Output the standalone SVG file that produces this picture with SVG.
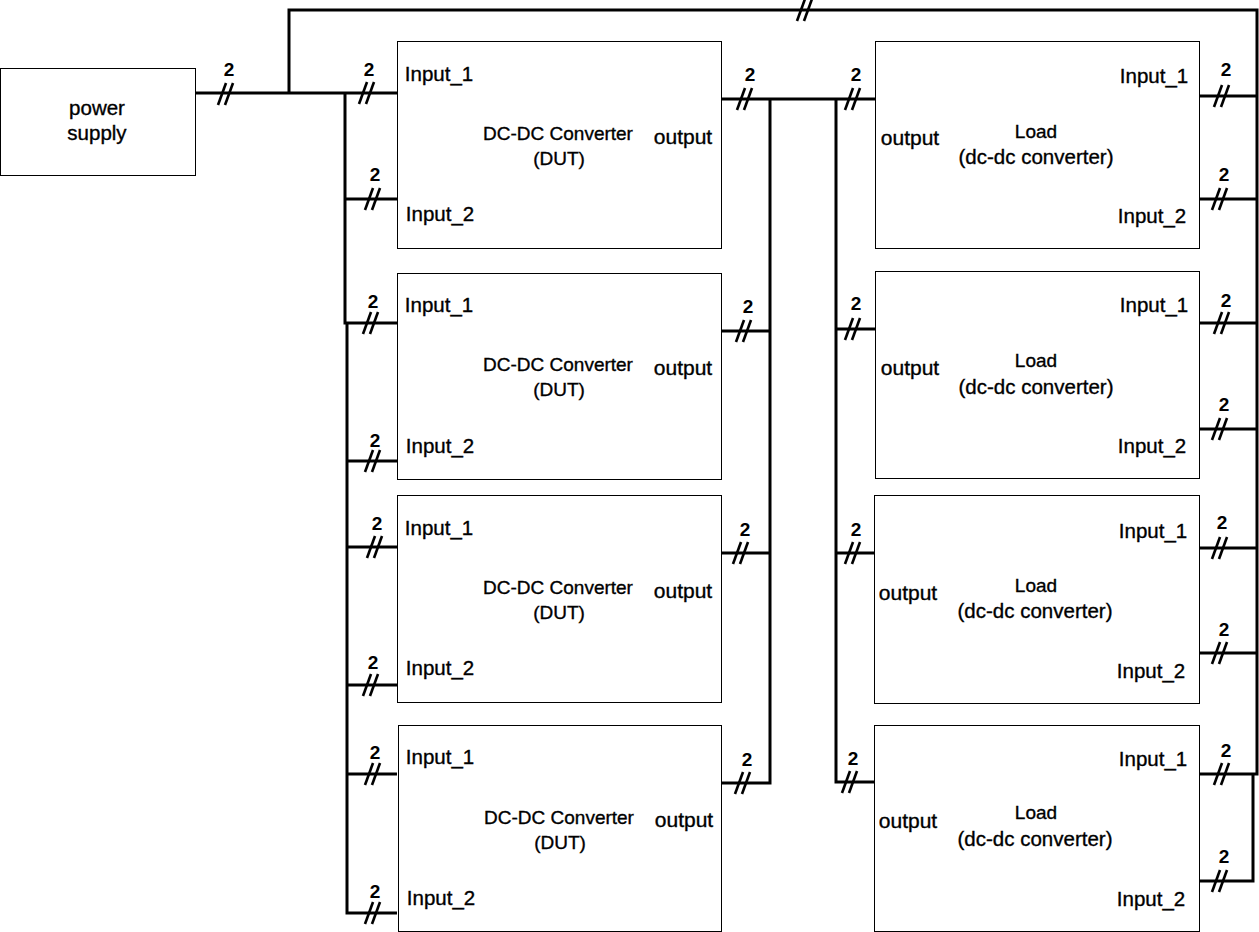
<svg xmlns="http://www.w3.org/2000/svg" width="1259" height="932" viewBox="0 0 1259 932">
<style>
.box{fill:#fff;stroke:#000;stroke-width:1}
.w{fill:none;stroke:#000;stroke-width:3}
.t{font-family:"Liberation Sans",Arial,sans-serif;font-size:19px;fill:#000;stroke:#000;stroke-width:0.35;text-anchor:middle}
.p{font-size:20.5px}
.o{font-size:21px}
.n{font-family:"Liberation Sans",Arial,sans-serif;font-size:19px;font-weight:bold;fill:#000;text-anchor:middle}
</style>
<defs>
<g id="slash" stroke="#000" stroke-width="2.6" fill="none">
<line x1="-8" y1="11" x2="0" y2="-11"/>
<line x1="-1" y1="11" x2="7" y2="-11"/>
</g>
</defs>
<rect width="1259" height="932" fill="#fff"/>

<g id="connectors">
<path class="w" d="M195 93 H397"/>
<path class="w" d="M289 93 V10 H1257 V774 H1199"/>
<path class="w" d="M1199 96 H1257 M1199 199 H1257 M1199 323 H1257 M1199 429 H1257 M1199 548 H1257 M1199 653 H1257"/>
<path class="w" d="M1253 774 V881 H1199"/>
<path class="w" d="M345 93 V323 H397"/>
<path class="w" d="M347 323 V913 H397"/>
<path class="w" d="M345 199 H397 M347 461 H397 M347 547 H397 M347 685 H397 M347 774 H397"/>
<path class="w" d="M721 99 H875"/>
<path class="w" d="M770 99 V783 H721 M721 331 H770 M721 553 H770"/>
<path class="w" d="M836 99 V782 H875 M836 329 H875 M836 553 H875"/>
<use href="#slash" x="226" y="94"/><text class="n" x="229" y="76">2</text>
<use href="#slash" x="805" y="10"/>
<use href="#slash" x="367" y="93"/><text class="n" x="369" y="76">2</text>
<use href="#slash" x="373" y="199"/><text class="n" x="375" y="181">2</text>
<use href="#slash" x="371" y="323"/><text class="n" x="373" y="308">2</text>
<use href="#slash" x="373" y="461"/><text class="n" x="375" y="447">2</text>
<use href="#slash" x="375" y="547"/><text class="n" x="377" y="530">2</text>
<use href="#slash" x="371" y="685"/><text class="n" x="373" y="669">2</text>
<use href="#slash" x="373" y="774"/><text class="n" x="375" y="759">2</text>
<use href="#slash" x="373" y="913"/><text class="n" x="375" y="898">2</text>
<use href="#slash" x="745" y="99"/><text class="n" x="750" y="81">2</text>
<use href="#slash" x="853" y="99"/><text class="n" x="856" y="81">2</text>
<use href="#slash" x="744" y="331"/><text class="n" x="748" y="313">2</text>
<use href="#slash" x="741" y="553"/><text class="n" x="745" y="536">2</text>
<use href="#slash" x="743" y="783"/><text class="n" x="747" y="766">2</text>
<use href="#slash" x="853" y="329"/><text class="n" x="856" y="310">2</text>
<use href="#slash" x="853" y="553"/><text class="n" x="856" y="536">2</text>
<use href="#slash" x="850" y="782"/><text class="n" x="853" y="765">2</text>
<use href="#slash" x="1222" y="96"/><text class="n" x="1226" y="76">2</text>
<use href="#slash" x="1220" y="199"/><text class="n" x="1224" y="181">2</text>
<use href="#slash" x="1222" y="323"/><text class="n" x="1226" y="307">2</text>
<use href="#slash" x="1220" y="429"/><text class="n" x="1224" y="411">2</text>
<use href="#slash" x="1220" y="548"/><text class="n" x="1222" y="529">2</text>
<use href="#slash" x="1220" y="653"/><text class="n" x="1224" y="636">2</text>
<use href="#slash" x="1222" y="774"/><text class="n" x="1226" y="757">2</text>
<use href="#slash" x="1220" y="881"/><text class="n" x="1224" y="863">2</text>
</g>

<g id="power-supply">
<rect class="box" x="0.5" y="68.5" width="195" height="107"/>
<text class="t p" x="97" y="115">power</text>
<text class="t p" x="97" y="140">supply</text>
</g>

<g id="dut1">
<rect class="box" x="397.5" y="41.5" width="324" height="207"/>
<text class="t p" x="439" y="81">Input_1</text>
<text class="t" x="558" y="140">DC-DC Converter</text>
<text class="t" x="559" y="165">(DUT)</text>
<text class="t o" x="683" y="144">output</text>
<text class="t p" x="440" y="221">Input_2</text>
</g>
<g id="dut2">
<rect class="box" x="397.5" y="273.5" width="324" height="206"/>
<text class="t p" x="439" y="312">Input_1</text>
<text class="t" x="558" y="371">DC-DC Converter</text>
<text class="t" x="559" y="396">(DUT)</text>
<text class="t o" x="683" y="375">output</text>
<text class="t p" x="440" y="453">Input_2</text>
</g>
<g id="dut3">
<rect class="box" x="397.5" y="495.5" width="324" height="207"/>
<text class="t p" x="439" y="535">Input_1</text>
<text class="t" x="558" y="594">DC-DC Converter</text>
<text class="t" x="559" y="619">(DUT)</text>
<text class="t o" x="683" y="598">output</text>
<text class="t p" x="440" y="675">Input_2</text>
</g>
<g id="dut4">
<rect class="box" x="398.5" y="725.5" width="323" height="206"/>
<text class="t p" x="440" y="764">Input_1</text>
<text class="t" x="559" y="824">DC-DC Converter</text>
<text class="t" x="560" y="849">(DUT)</text>
<text class="t o" x="684" y="827">output</text>
<text class="t p" x="441" y="905">Input_2</text>
</g>

<g id="load1">
<rect class="box" x="875.5" y="41.5" width="324" height="207"/>
<text class="t p" x="1154" y="83">Input_1</text>
<text class="t" x="1036" y="138">Load</text>
<text class="t p" x="1036" y="164">(dc-dc converter)</text>
<text class="t o" x="910" y="145">output</text>
<text class="t p" x="1152" y="223">Input_2</text>
</g>
<g id="load2">
<rect class="box" x="875.5" y="271.5" width="324" height="207"/>
<text class="t p" x="1154" y="312">Input_1</text>
<text class="t" x="1036" y="367">Load</text>
<text class="t p" x="1036" y="394">(dc-dc converter)</text>
<text class="t o" x="910" y="375">output</text>
<text class="t p" x="1152" y="453">Input_2</text>
</g>
<g id="load3">
<rect class="box" x="874.5" y="495.5" width="325" height="208"/>
<text class="t p" x="1153" y="538">Input_1</text>
<text class="t" x="1036" y="592">Load</text>
<text class="t p" x="1035" y="618">(dc-dc converter)</text>
<text class="t o" x="908" y="600">output</text>
<text class="t p" x="1151" y="678">Input_2</text>
</g>
<g id="load4">
<rect class="box" x="874.5" y="725.5" width="325" height="206"/>
<text class="t p" x="1153" y="766">Input_1</text>
<text class="t" x="1036" y="819">Load</text>
<text class="t p" x="1035" y="846">(dc-dc converter)</text>
<text class="t o" x="908" y="828">output</text>
<text class="t p" x="1151" y="906">Input_2</text>
</g>
</svg>
